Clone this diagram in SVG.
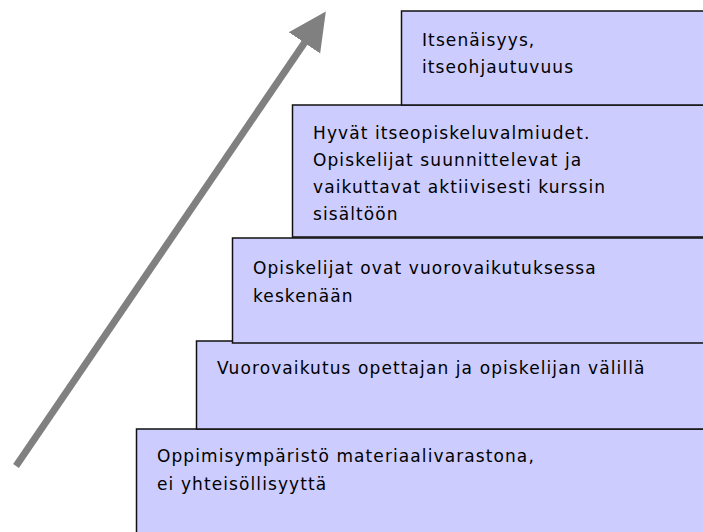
<svg xmlns="http://www.w3.org/2000/svg" width="703" height="532" viewBox="0 0 703 532">
<style>
.box{fill:#CCCCFF;stroke:#111;stroke-width:1.5}
.t{font-family:"Comic Sans MS","DejaVu Sans",sans-serif;font-size:17px;letter-spacing:1.1px;fill:#000}
</style>
<defs>
<marker id="ah" markerUnits="userSpaceOnUse" markerWidth="40" markerHeight="40" refX="1" refY="20" orient="auto" viewBox="0 0 40 40">
<path d="M0,1 L38,20 L0,39 Z" fill="#808080"/>
</marker>
</defs>
<g id="step5"><rect class="box" x="136.5" y="429" width="580" height="120"/>
<text class="t" x="157" y="462">Oppimisympäristö materiaalivarastona,</text>
<text class="t" x="157" y="490">ei yhteisöllisyyttä</text></g>
<g id="step4"><rect class="box" x="196.5" y="341" width="520" height="88"/>
<text class="t" x="217" y="374">Vuorovaikutus opettajan ja opiskelijan välillä</text></g>
<g id="step3"><rect class="box" x="232.5" y="238" width="480" height="105"/>
<text class="t" x="253" y="274">Opiskelijat ovat vuorovaikutuksessa</text>
<text class="t" x="253" y="302">keskenään</text></g>
<g id="step2"><rect class="box" x="292.5" y="105" width="420" height="132"/>
<text class="t" x="313" y="139">Hyvät itseopiskeluvalmiudet.</text>
<text class="t" x="313" y="166">Opiskelijat suunnittelevat ja</text>
<text class="t" x="313" y="193">vaikuttavat aktiivisesti kurssin</text>
<text class="t" x="313" y="220">sisältöön</text></g>
<g id="step1"><rect class="box" x="401.5" y="11" width="310" height="94"/>
<text class="t" x="422" y="46">Itsenäisyys,</text>
<text class="t" x="422" y="73">itseohjautuvuus</text></g>
<g id="connectors"><line x1="16" y1="466" x2="305" y2="42" stroke="#808080" stroke-width="7" marker-end="url(#ah)"/></g>
</svg>
